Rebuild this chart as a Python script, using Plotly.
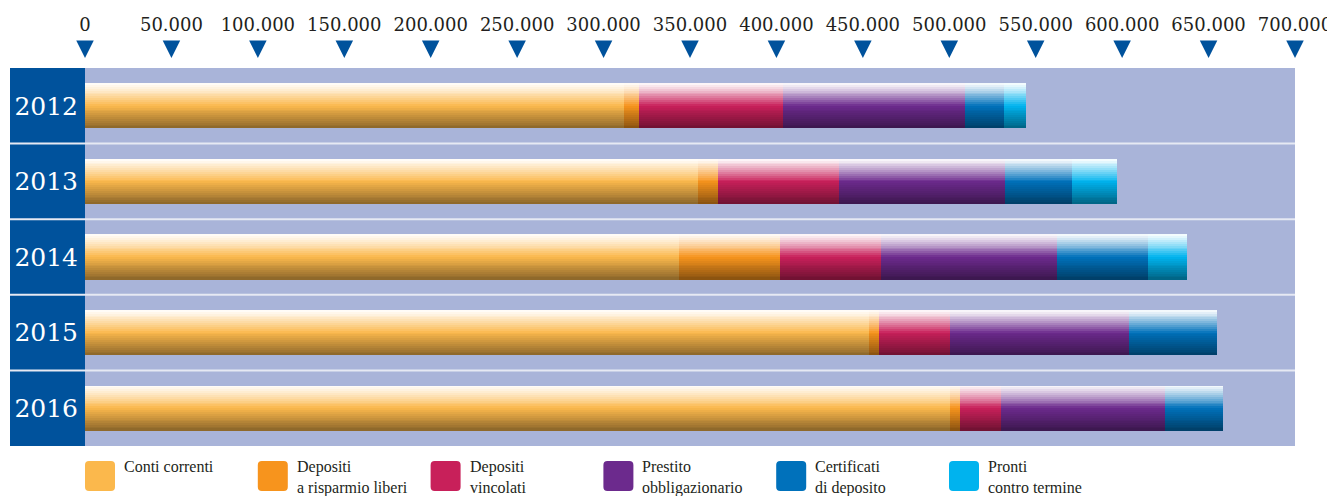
import plotly.graph_objects as go

# ---------------- data ----------------
years = ["2012", "2013", "2014", "2015", "2016"]

conti_correnti = [311800, 354600, 343600, 453400, 500500]
depositi_liberi = [8700, 11600, 58500, 6000, 5600]
depositi_vincolati = [83300, 70000, 58400, 41100, 23800]
prestito_obbligazionario = [105300, 96000, 101700, 103500, 94800]
certificati_deposito = [22500, 38800, 52700, 50900, 33600]
pronti_contro_termine = [12800, 26000, 22700, 0, 0]

legend_labels = [
    "Conti correnti",
    "Depositi<br>a risparmio liberi",
    "Depositi<br>vincolati",
    "Prestito<br>obbligazionario",
    "Certificati<br>di deposito",
    "Pronti<br>contro termine",
]

tick_values = [0, 50000, 100000, 150000, 200000, 250000, 300000, 350000,
               400000, 450000, 500000, 550000, 600000, 650000, 700000]
tick_labels = ["0", "50.000", "100.000", "150.000", "200.000", "250.000",
               "300.000", "350.000", "400.000", "450.000", "500.000",
               "550.000", "600.000", "650.000", "700.000"]

series_values = [conti_correnti, depositi_liberi, depositi_vincolati,
                 prestito_obbligazionario, certificati_deposito,
                 pronti_contro_termine]

# ---------------- styles ----------------
series_colors = ["#FBB84C", "#F7941D", "#C8205A", "#6C2A8D", "#0071BB", "#00B3EE"]
bg_color = "#A9B4D9"
dark_blue = "#00529C"
text_color = "#231F20"

# the page body adds an 8px margin; lay out the figure to compensate
OFF = 8
W, H = 1335 - OFF, 496 - OFF
ML, MR, MT, MB = 85 - OFF, 40, 10 - OFF, 50
PW, PH = W - ML - MR, H - MT - MB
BOTTOM = 446  # bottom of the bar area, in page pixels


def px_x(px):
    return (px - OFF - ML) / PW


def px_y(py):
    return (H - MB - (py - OFF)) / PH


def hex_rgb(h):
    h = h.lstrip("#")
    return [int(h[i:i + 2], 16) for i in (0, 2, 4)]


def shade(hexc, t):
    c = hex_rgb(hexc)
    peak = 0.5
    if t < peak:
        m = 0.02 + 0.98 * (t / peak) ** 1.15
        out = [255 * (1 - m) + v * m for v in c]
    else:
        s = (t - peak) / (1 - peak)
        f = 1 - 0.45 * s
        out = [v * f for v in c]
    return "rgb(%d,%d,%d)" % tuple(max(0, min(255, round(v))) for v in out)


fig = go.Figure()

bar_width = 0.6
N = 24
n = len(years)
for si, (vals, col) in enumerate(zip(series_values, series_colors)):
    bases = [sum(series_values[j][i] for j in range(si)) for i in range(n)]
    for k in range(N):
        t = (k + 0.5) / N
        off = -bar_width / 2 + k * bar_width / N
        w = bar_width - k * bar_width / N
        fig.add_trace(go.Bar(
            y=years, x=vals, base=bases, orientation="h",
            width=w, offset=off,
            marker=dict(color=shade(col, t), line=dict(width=0)),
            showlegend=False, hoverinfo="skip",
            xaxis="x", yaxis="y",
        ))

# triangles under tick labels
fig.add_trace(go.Scatter(
    x=tick_values, y=[0.1] * len(tick_values),
    mode="markers", xaxis="x", yaxis="y2",
    marker=dict(symbol="arrow-down", size=17.5, color=dark_blue,
                line=dict(width=0)),
    cliponaxis=False, showlegend=False, hoverinfo="skip",
))

shapes = []
# background of the bar area
shapes.append(dict(type="rect", xref="paper", yref="paper",
                   x0=0, x1=1, y0=0, y1=px_y(68),
                   fillcolor=bg_color, line=dict(width=0), layer="below"))
# dark blue year column
shapes.append(dict(type="rect", xref="paper", yref="paper",
                   x0=px_x(10), x1=0, y0=0, y1=px_y(68),
                   fillcolor=dark_blue, line=dict(width=0), layer="below"))
# row separators
for i in range(n - 1):
    shapes.append(dict(type="line", xref="paper", yref="y",
                       x0=px_x(10), x1=1, y0=i + 0.5, y1=i + 0.5,
                       line=dict(color="#E6E9F3", width=2), layer="below"))

annotations = []
leg_x0 = 85
leg_dx = 172.8
sw, sh_top, sh_bot = 30, 461, 491
r = 4
for i, (lab, col) in enumerate(zip(legend_labels, series_colors)):
    x0 = leg_x0 + i * leg_dx
    x1 = x0 + sw
    X0, X1 = px_x(x0), px_x(x1)
    Yt, Yb = px_y(sh_top), px_y(sh_bot)
    rx, ry = r / PW, r / PH
    path = (f"M{X0 + rx},{Yt} L{X1 - rx},{Yt} Q{X1},{Yt} {X1},{Yt - ry} "
            f"L{X1},{Yb + ry} Q{X1},{Yb} {X1 - rx},{Yb} "
            f"L{X0 + rx},{Yb} Q{X0},{Yb} {X0},{Yb + ry} "
            f"L{X0},{Yt - ry} Q{X0},{Yt} {X0 + rx},{Yt} Z")
    shapes.append(dict(type="path", xref="paper", yref="paper", path=path,
                       fillcolor=col, line=dict(width=0)))
    annotations.append(dict(
        x=px_x(x0 + 37), y=px_y(456), xref="paper", yref="paper",
        xanchor="left", yanchor="top", align="left", showarrow=False,
        text=lab, font=dict(family="Liberation Serif", size=16, color=text_color),
    ))

fig.update_layout(
    width=W, height=H,
    margin=dict(l=ML, r=MR, t=MT, b=MB),
    paper_bgcolor="white", plot_bgcolor="white",
    barmode="overlay", bargap=0,
    showlegend=False,
    xaxis=dict(range=[0, 700000], side="top", anchor="y2",
               tickmode="array", tickvals=tick_values, ticktext=tick_labels,
               tickfont=dict(family="DejaVu Serif", size=18, color=text_color),
               showgrid=False, zeroline=False, showline=False, ticks="",
               ticklabelstandoff=4),
    yaxis=dict(type="category", range=[4.5, -0.5], domain=[0, px_y(68)],
               anchor="x",
               tickfont=dict(family="DejaVu Serif", size=25, color="white"),
               showgrid=False, zeroline=False, showline=False, ticks="",
               ticklabelstandoff=6),
    yaxis2=dict(range=[0, 1], domain=[px_y(60), px_y(40)], anchor="x",
                visible=False),
    shapes=shapes,
    annotations=annotations,
)

fig.write_html("out.html")
